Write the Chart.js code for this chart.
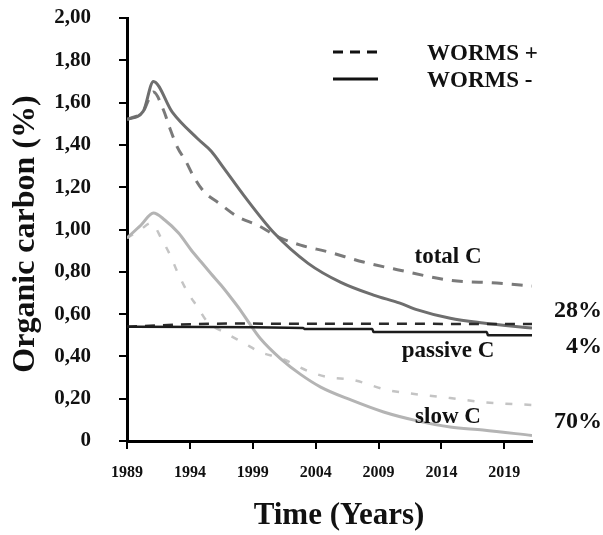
<!DOCTYPE html>
<html>
<head>
<meta charset="utf-8">
<script src="https://cdn.jsdelivr.net/npm/chart.js@4/dist/chart.umd.min.js"></script>
<style>
  html, body { margin:0; padding:0; background:#fff; }
  #wrap { width:603px; height:535px; position:relative; }
</style>
</head>
<body>
<div id="wrap"><canvas id="chartCarbon"></canvas></div>
<script>
// ── Dados ───────────────────────────────────────────────────────────────
const X_TICKS = [1989, 1994, 1999, 2004, 2009, 2014, 2019];

// total C, WORMS - (linha contínua)
const totalMinusYears = [1989, 1990.3, 1991.1, 1992.6, 1994.6, 1995.7, 1996.7, 1998.3, 2000.7, 2003.4, 2006, 2008.6, 2010.7, 2012.1, 2014.7, 2017.3, 2021.2];
const totalMinusC     = [1.52, 1.56, 1.70, 1.555, 1.43, 1.37, 1.29, 1.16, 0.983, 0.84, 0.75, 0.69, 0.652, 0.62, 0.58, 0.558, 0.534];

// total C, WORMS + (tracejada)
const totalPlusYears = [1989, 1990.3, 1991.1, 1991.9, 1992.4, 1993, 1993.7, 1994.3, 1995.1, 1996.3, 1997.8, 1999.4, 2001, 2002.8, 2005, 2007.8, 2010.5, 2014.7, 2018.4, 2021.2];
const totalPlusC     = [1.52, 1.56, 1.65, 1.565, 1.48, 1.39, 1.32, 1.25, 1.18, 1.125, 1.06, 1.02, 0.965, 0.926, 0.894, 0.846, 0.81, 0.76, 0.747, 0.733];

// passive C
const passiveMinusYears = [1989, 2003, 2003.1, 2008.5, 2008.6, 2017.6, 2017.7, 2021.2];
const passiveMinusC     = [0.54, 0.534, 0.53, 0.53, 0.515, 0.515, 0.50, 0.50];
const passivePlusYears  = [1989, 1993, 1997, 2021.2];
const passivePlusC      = [0.54, 0.55, 0.555, 0.553];

// slow C
const slowMinusYears = [1989, 1990.1, 1991.1, 1992, 1993.1, 1994.1, 1994.9, 1995.7, 1996.5, 1997.3, 1998, 1998.8, 1999.6, 2001.2, 2002.8, 2004.4, 2006.8, 2009.4, 2012.1, 2014.7, 2017.3, 2021.2];
const slowMinusC     = [0.96, 1.02, 1.078, 1.045, 0.983, 0.903, 0.846, 0.79, 0.735, 0.675, 0.62, 0.55, 0.485, 0.39, 0.315, 0.255, 0.194, 0.137, 0.095, 0.066, 0.052, 0.026];
const slowPlusYears  = [1989, 1990.1, 1990.9, 1991.8, 1992.5, 1993, 1993.8, 1994.6, 1995.4, 1996.7, 1998.3, 1999.6, 2001.2, 2003.6, 2004.9, 2007, 2009.7, 2012.6, 2014.7, 2017.3, 2021.2];
const slowPlusC      = [0.96, 1.0, 1.03, 0.95, 0.87, 0.80, 0.705, 0.634, 0.563, 0.515, 0.463, 0.42, 0.392, 0.326, 0.303, 0.288, 0.241, 0.217, 0.203, 0.184, 0.17];

const FONT = '"Liberation Serif", "Times New Roman", serif';
const INK  = '#111';

function pts(xs, ys) { return xs.map((x, i) => ({ x, y: ys[i] })); }

function serie(label, xs, ys, cor, largura, dash) {
  return {
    label, data: pts(xs, ys),
    borderColor: cor, borderWidth: largura, borderDash: dash || [],
    pointRadius: 0, cubicInterpolationMode: 'monotone', fill: false,
  };
}

// ── Textos: legenda, rótulos e títulos dos eixos ─────────────────────────
const textos = {
  id: 'textos',
  afterDraw(chart) {
    const c = chart.ctx;
    c.save();
    c.fillStyle = INK;
    c.strokeStyle = INK;

    // legenda
    c.lineWidth = 3;
    c.setLineDash([10, 7]);
    c.beginPath(); c.moveTo(333, 52); c.lineTo(378, 52); c.stroke();
    c.setLineDash([]);
    c.beginPath(); c.moveTo(333, 79); c.lineTo(378, 79); c.stroke();

    c.font = 'bold 23px ' + FONT;
    c.textAlign = 'left'; c.textBaseline = 'middle';
    c.fillText('WORMS +', 427, 54);
    c.fillText('WORMS -', 427, 81);

    // rótulos das curvas
    c.textAlign = 'center';
    c.font = 'bold 23px ' + FONT;
    c.fillText('total C', 448, 257);
    c.fillText('passive C', 448, 351);
    c.fillText('slow C', 448, 417);

    c.font = 'bold 24px ' + FONT;
    c.fillText('28%', 578, 311);
    c.fillText('4%', 584, 347);
    c.fillText('70%', 578, 422);

    // títulos
    c.font = 'bold 31px ' + FONT;
    c.fillText('Time (Years)', 339, 516);
    c.font = 'bold 32px ' + FONT;
    c.translate(26, 234);
    c.rotate(-Math.PI / 2);
    c.fillText('Organic carbon (%)', 0, 0);
    c.restore();
  },
};

new Chart(document.getElementById('chartCarbon'), {
  type: 'line',
  data: {
    datasets: [
      serie('passive C, WORMS -', passiveMinusYears, passiveMinusC, '#1c1c1c', 2.5),
      serie('passive C, WORMS +', passivePlusYears,  passivePlusC,  '#2a2a2a', 2.5, [10, 8]),
      serie('total C, WORMS -',   totalMinusYears,   totalMinusC,   '#6e6e6e', 3),
      serie('total C, WORMS +',   totalPlusYears,    totalPlusC,    '#7a7a7a', 3, [11, 9]),
      serie('slow C, WORMS -',    slowMinusYears,    slowMinusC,    '#b4b4b4', 3),
      serie('slow C, WORMS +',    slowPlusYears,     slowPlusC,     '#c4c4c4', 2.5, [7, 12]),
    ],
  },
  options: {
    responsive: true, maintainAspectRatio: false, animation: false,
    layout: { padding: { left: 0, top: 18, right: 71, bottom: 0 } },
    plugins: { legend: { display: false }, tooltip: { enabled: false } },
    scales: {
      x: {
        type: 'linear', min: 1989, max: 2021.2,
        afterBuildTicks: s => { s.ticks = X_TICKS.map(v => ({ value: v })); },
        afterFit: s => { s.height = 94; s.paddingLeft = 0; s.paddingRight = 0; },
        grid: { drawOnChartArea: false, drawTicks: true, tickLength: 8, color: '#000', lineWidth: 2 },
        border: { display: true, color: '#000', width: 3 },
        ticks: { color: INK, padding: 14, maxRotation: 0, font: { family: FONT, size: 16, weight: 'bold' }, callback: v => String(v) },
      },
      y: {
        min: 0, max: 2,
        // o padding dos rótulos empurra a área do gráfico para baixo; zera aqui
        afterFit: s => { s.width = 127; s.paddingTop = 0; s.paddingBottom = 0; },
        grid: { drawOnChartArea: false, drawTicks: true, tickLength: 8, color: '#000', lineWidth: 2 },
        border: { display: true, color: '#000', width: 3 },
        ticks: {
          stepSize: 0.2, color: INK, padding: 28,
          font: { family: FONT, size: 21, weight: 'bold' },
          callback: v => v === 0 ? '0' : v.toFixed(2).replace('.', ','),
        },
      },
    },
  },
  plugins: [textos],
});
</script>
</body>
</html>
